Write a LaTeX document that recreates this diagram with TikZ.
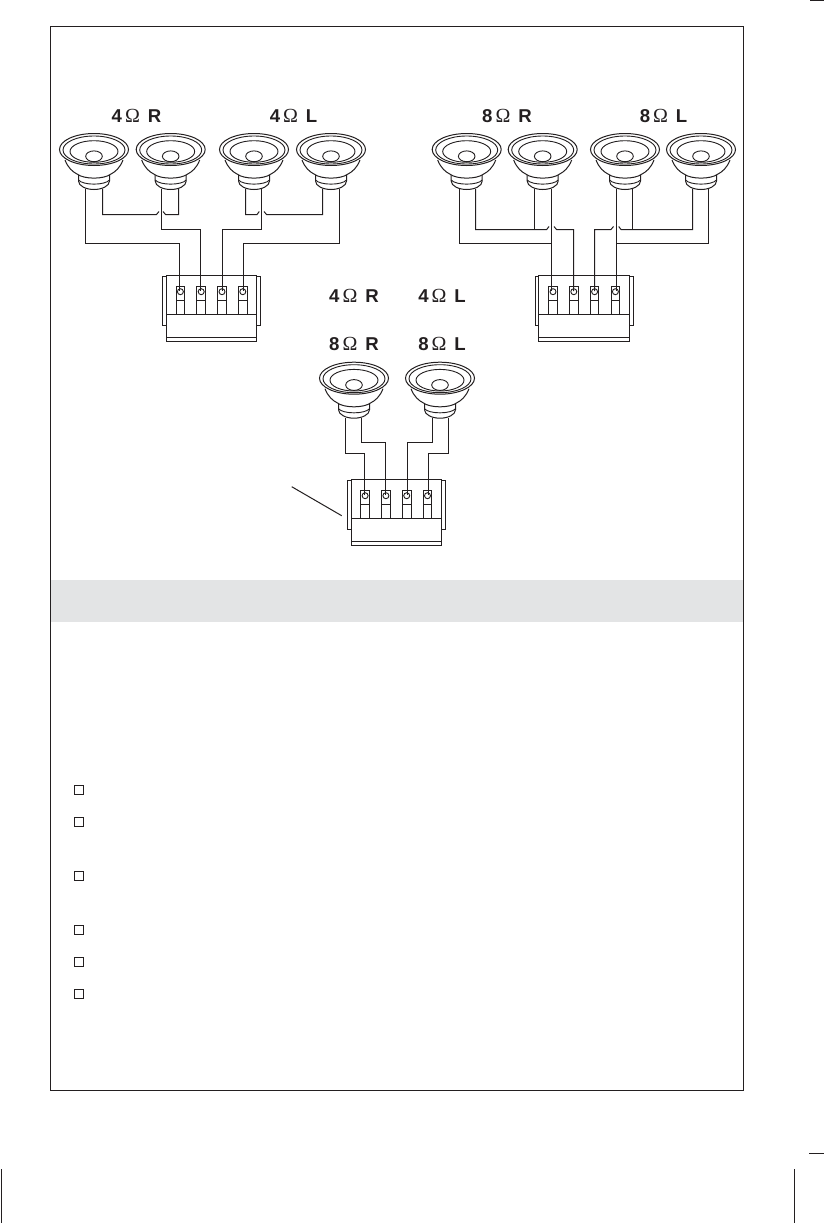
\documentclass[tikz,border=0pt]{standalone}
\usepackage{fontspec}
\setmainfont{Liberation Sans}
\newfontfamily\omegafont{Liberation Serif}
\definecolor{bandgrey}{HTML}{E3E4E5}
\definecolor{ink}{HTML}{231F20}
\tikzset{
  wire/.style={line width=1pt,line join=miter,color=ink},
  part/.style={line width=1pt,fill=white,draw=ink},
  thin part/.style={line width=0.9pt,draw=ink},
  frameline/.style={line width=1.3pt,color=ink},
  ohm/.style={font=\fontsize{18.6}{20}\selectfont,inner sep=0pt,anchor=center,text=ink},
  check/.style={draw=ink,line width=0.9pt,minimum size=9pt,inner sep=0pt,fill=white},
}
\newcommand{\ohmlabel}[2]{\textbf{#1}\,{\omegafont\fontsize{20}{20}\selectfont Ω}\hspace{0.42em}\textbf{#2}}
% speaker: centre x, top reference y
\newcommand{\speaker}[2]{%
  \begin{scope}[shift={(#1,#2)}]
    \fill[white] (-35,16) -- (-16,45) -- (16,45) -- (35,16) -- cycle;
    \draw[part] (-15.5,37) -- (-15.5,48) .. controls (-15.5,53) and (-8,56.5) .. (0,56.5) .. controls (8,56.5) and (15.5,53) .. (15.5,48) -- (15.5,37);
    \draw[thin part] (-15.5,47) .. controls (-11,52.5) and (11,52.5) .. (15.5,47);
    \draw[part] (-29,27) .. controls (-26,35) and (-21,39) .. (-17,41) .. controls (-10,46.5) and (10,46.5) .. (17,41) .. controls (21,39) and (26,35) .. (29,27);
    \draw[part] (0,16.5) ellipse [x radius=34.5,y radius=16];
    \draw[thin part] (0,17) ellipse [x radius=31,y radius=14];
    \draw[thin part] (0,18.5) ellipse [x radius=24,y radius=10.8];
    \draw[thin part] (0,23.3) ellipse [x radius=8.3,y radius=5.4];
  \end{scope}}
% terminal block: left edge x, top y
\newcommand{\tblock}[2]{%
  \begin{scope}[shift={(#1,#2)}]
    \draw[part] (-3.6,1.4) rectangle (94.4,50);
    \draw[part] (0,0) rectangle (90.4,65.7);
    \draw[thin part] (0,39) -- (90.4,39);
    \draw[thin part] (0,61.7) -- (90.4,61.7);
    \foreach \t in {9.8,30.6,51.4,72.2}{
      \draw[part] (\t,10.7) rectangle ++(8.6,28.3);
      \draw[thin part] (\t,25) -- ++(8.6,0);
      \draw[thin part] (\t+4.3,16.4) circle [radius=3];
    }
  \end{scope}}
\begin{document}
\begin{tikzpicture}[x=1pt,y=-1pt]
\useasboundingbox (0,0) rectangle (824,1223);
\fill[white] (0,0) rectangle (824,1223);
% crop marks
\coordinate (ct1) at (810,0.7); \coordinate (ct2) at (824,0.7);
\coordinate (ct3) at (809,1153); \coordinate (ct4) at (824,1153);
\coordinate (cl1) at (1.6,1169); \coordinate (cl2) at (1.6,1223);
\coordinate (cr1) at (794.5,1169); \coordinate (cr2) at (794.5,1223);
\draw[frameline,line width=0.9pt] (ct3) -- (ct4) (cl1) -- (cl2) (cr1) -- (cr2) (ct1) -- (ct2);
% band and frame
\fill[bandgrey] (51,580) rectangle (743,622);
\draw[frameline] (50.4,26.4) rectangle (743.6,1090.3);
% labels
\node[ohm] (l1) at (136.5,116) {\ohmlabel{4}{R}};
\node[ohm] (l2) at (293.5,116) {\ohmlabel{4}{L}};
\node[ohm] (l3) at (507,116) {\ohmlabel{8}{R}};
\node[ohm] (l4) at (663.5,116) {\ohmlabel{8}{L}};
\node[ohm] (l5) at (354,296) {\ohmlabel{4}{R}};
\node[ohm] (l6) at (442,296) {\ohmlabel{4}{L}};
\node[ohm] (l7) at (354,344) {\ohmlabel{8}{R}};
\node[ohm] (l8) at (442,344) {\ohmlabel{8}{L}};
% speakers
\foreach \x in {94,170.7,254,331,466.7,542.7,625,701}{\speaker{\x}{133}}
\speaker{354}{361.7}
\speaker{440}{361.7}
% blocks
\tblock{166.3}{275.3}
\tblock{538.9}{275.3}
\tblock{351}{479.3}
% left group wires
\draw[wire] (85.5,189) |- (179.5,243.5) -- (179.5,291);
\draw[wire] (102.5,189) |- (156.5,214.5) -- (159,211.5);
\draw[wire] (163,211.5) -- (165.5,214.5) -| (178.5,189);
\draw[wire] (161.5,189) |- (200.5,229.5) -- (200.5,291);
\draw[wire] (261.5,189) |- (222.5,229.5) -- (222.5,291);
\draw[wire] (245.5,189) |- (257,214.5) -- (259.3,211.5);
\draw[wire] (264,211.5) -- (266.5,214.5) -| (322.5,189);
\draw[wire] (339.5,189) |- (243.5,243.5) -- (243.5,291);
% right group wires
\draw[wire] (459.5,189) |- (551.5,243.5);
\draw[wire] (475.5,189) |- (546.7,229.5) -- (549,226.5);
\draw[wire] (534.5,189) -- (534.5,229.5);
\draw[wire] (554,226.5) -- (556.5,229.5) -| (573.5,291);
\draw[wire] (551.5,189) -- (551.5,291);
\draw[wire] (616.5,189) -- (616.5,291);
\draw[wire] (708.5,189) |- (616.5,243.5);
\draw[wire] (692.5,189) |- (621,229.5) -- (618.7,226.5);
\draw[wire] (632.5,189) -- (632.5,229.5);
\draw[wire] (613.5,226.5) -- (611,229.5) -| (594.5,291);
% centre group wires
\draw[wire] (345.5,418) |- (364.5,453.5) -- (364.5,495);
\draw[wire] (361.5,418) |- (385.5,442.5) -- (385.5,495);
\draw[wire] (432.5,418) |- (407.5,442.5) -- (407.5,495);
\draw[wire] (448.5,418) |- (428.5,453.5) -- (428.5,495);
% leader
\coordinate (ld1) at (291.7,486.7); \coordinate (ld2) at (341.7,515.7);
\draw[wire] (ld1) -- (ld2);
% check boxes
\foreach \y [count=\i] in {790.2,822.2,876.2,930.2,962.2,994.2}{
  \node[check] (c\i) at (79,\y) {};
}
\end{tikzpicture}
\end{document}
